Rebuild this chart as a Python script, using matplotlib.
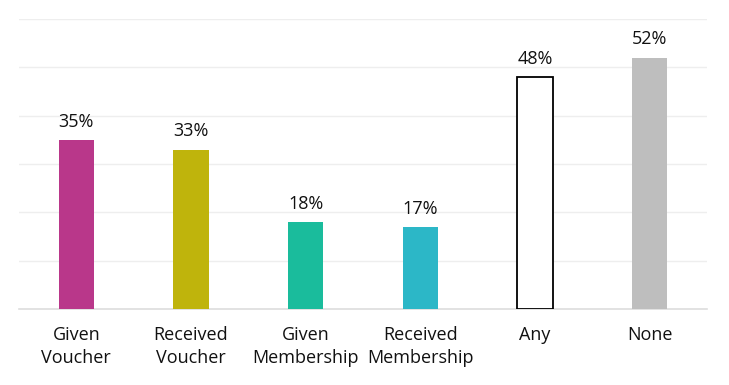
import matplotlib
matplotlib.use("Agg")
import matplotlib.pyplot as plt

categories = ["Given\nVoucher", "Received\nVoucher", "Given\nMembership", "Received\nMembership", "Any", "None"]
values = [35, 33, 18, 17, 48, 52]
colors = ["#B9378A", "#BFB40C", "#1ABC9C", "#2CB7C7", "#FFFFFF", "#BEBEBE"]
edges = ["none", "none", "none", "none", "#000000", "none"]

plt.rcParams['font.family'] = ['Open Sans', 'DejaVu Sans']

fig = plt.figure(figsize=(7.29, 3.85), dpi=100)
ax = fig.add_axes([19/729, 1 - 309/385, 688/729, 290/385])

x = list(range(len(values)))
for i, (v, c, e) in enumerate(zip(values, colors, edges)):
    ax.bar(i, v, width=0.31, color=c, edgecolor=e, linewidth=1.3 if e != "none" else 0, zorder=3)
    ax.text(i, v + 1.9, f"{v}%", ha="center", va="bottom", fontsize=13, color="#111111")

ax.set_xlim(-0.5, len(values) - 0.5)
ax.set_ylim(0, 60)
ax.set_yticks(range(0, 61, 10))
ax.yaxis.grid(True, color="#EEEEEE", linewidth=1)
ax.set_axisbelow(True)
ax.tick_params(axis="y", left=False, labelleft=False)
ax.tick_params(axis="x", bottom=False, pad=9)
ax.set_xticks(x)
ax.set_xticklabels(categories, fontsize=13, color="#111111", linespacing=1.3)
for s in ["top", "right", "left"]:
    ax.spines[s].set_visible(False)
ax.spines["bottom"].set_color("#DDDDDD")
ax.spines["bottom"].set_linewidth(1.2)

fig.savefig("out.png", dpi=100)
